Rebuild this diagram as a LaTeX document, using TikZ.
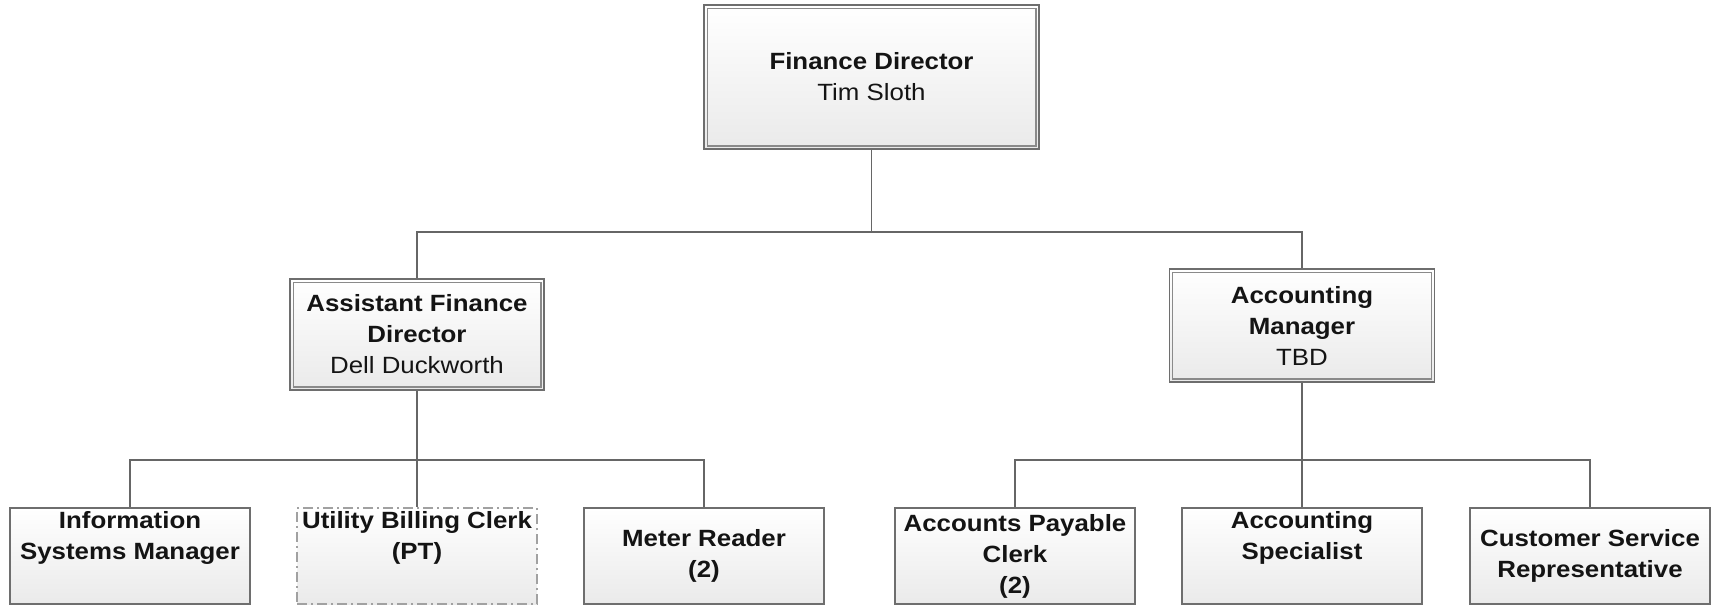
\documentclass[tikz,border=0pt]{standalone}
\usepackage{fontspec}
\setmainfont{Liberation Sans}[FakeStretch=1.1]
\begin{document}
\definecolor{edge}{HTML}{6E6E6E}
\definecolor{inneredge}{HTML}{8A8A8A}
\definecolor{boxfill}{HTML}{EAEAEA}
\definecolor{wire}{HTML}{666666}
\definecolor{ink}{HTML}{141414}
\begin{tikzpicture}[x=1pt,y=-1pt,
  txt/.style={font=\fontsize{23.5}{31}\selectfont, text=ink, align=center},
  lead/.style={txt, draw=edge, line width=1.7pt, top color=white, bottom color=boxfill,
               shading angle=0, inner sep=0pt},
  staff/.style={txt, draw=edge, line width=1.5pt, top color=white, bottom color=boxfill,
                minimum width=240pt, minimum height=96pt, inner sep=0pt},
  parttime/.style={staff, draw=inneredge!80!white, line width=1.6pt,
                   dash pattern=on 10pt off 4pt on 2pt off 4pt},
  inner/.style={draw=inneredge, line width=1.3pt},
  conn/.style={draw=wire, line width=1.4pt},
]
\useasboundingbox (0,0) rectangle (1716,606);

% --- leadership boxes (double framed) ---
\node[lead, minimum width=335pt, minimum height=144pt] (fd) at (871.5,77)
  {\textbf{Finance Director}\\Tim Sloth};
\node[lead, minimum width=254pt, minimum height=111pt] (afd) at (417,334.5)
  {\textbf{Assistant Finance}\\\textbf{Director}\\Dell Duckworth};
\node[lead, minimum width=265pt, minimum height=113pt] (am) at (1302,325.5)
  {\textbf{Accounting}\\\textbf{Manager}\\TBD};

\foreach \n in {fd,afd,am}
  \draw[inner] ([shift={(4,4)}]\n.north west) rectangle ([shift={(-4,-4)}]\n.south east);

% --- staff boxes ---
\node[staff] (ism) at (130,556) {\textbf{Information}\\\textbf{Systems Manager}\\\strut};
\node[parttime] (ubc) at (417,556) {\textbf{Utility Billing Clerk}\\\textbf{(PT)}\\\strut};
\node[staff] (mr) at (704,556) {\textbf{Meter Reader}\\\textbf{(2)}};
\node[staff] (apc) at (1015,556) {\textbf{Accounts Payable}\\\textbf{Clerk}\\\textbf{(2)}};
\node[staff] (as) at (1302,556) {\textbf{Accounting}\\\textbf{Specialist}\\\strut};
\node[staff] (csr) at (1590,556) {\textbf{Customer Service}\\\textbf{Representative}};

% --- reporting lines ---
\coordinate (top bus) at (0,232);
\coordinate (low bus) at (0,460);

\draw[conn] (fd.south) -- (fd.south |- top bus) -| (afd.north);
\draw[conn] (fd.south |- top bus) -| (am.north);

\draw[conn] (afd.south) -- (afd.south |- low bus) -| (ism.north);
\draw[conn] (afd.south |- low bus) -- (ubc.north);
\draw[conn] (afd.south |- low bus) -| (mr.north);

\draw[conn] (am.south) -- (am.south |- low bus) -| (apc.north);
\draw[conn] (am.south |- low bus) -- (as.north);
\draw[conn] (am.south |- low bus) -| (csr.north);
\end{tikzpicture}
\end{document}
